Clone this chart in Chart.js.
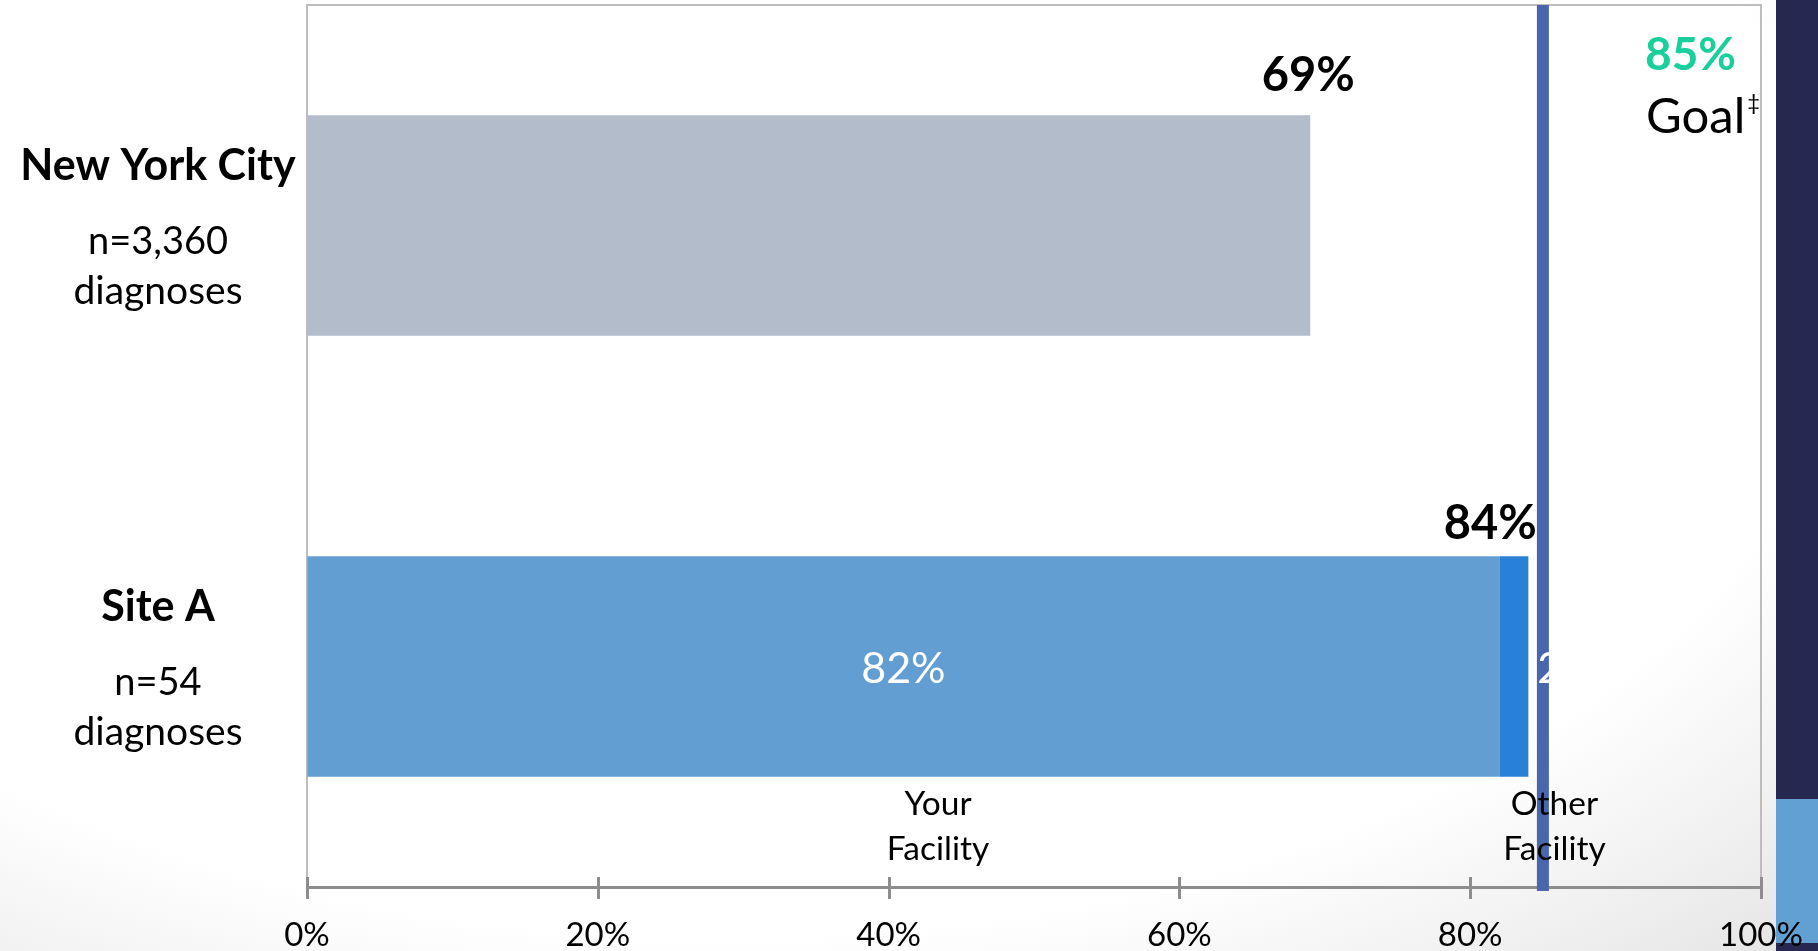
<!DOCTYPE html>
<html>
<head>
<meta charset="utf-8">
<script src="https://cdn.jsdelivr.net/npm/chart.js@4/dist/chart.umd.min.js"></script>
<style>
  html, body { margin: 0; padding: 0; }
  body {
    width: 1818px; height: 951px; overflow: hidden; position: relative;
    background: radial-gradient(ellipse 85% 95% at 40% 30%, #ffffff 72%, #efefef 90%, #dcdcdc 110%);
  }
  #stripe {
    position: absolute; left: 1776px; top: 0; width: 42px; height: 951px;
    background: linear-gradient(to bottom, #272852 0, #272852 799px, #629fd3 799px, #629fd3 943px, #272852 943px);
  }
  #wrap { position: absolute; left: 0; top: 0; width: 1818px; height: 951px; }
</style>
</head>
<body>
<div id="stripe"></div>
<div id="wrap"><canvas id="chart" width="1818" height="951"></canvas></div>
<script>
// Categories and their sample sizes
const categories = ['New York City', 'Site A'];
const sampleSizes = ['n=3,360', 'n=54'];
const sampleUnit = 'diagnoses';

// Percent of diagnoses, by series
const cityValues = [69, null];
const yourFacilityValues = [null, 82];
const otherFacilityValues = [null, 2];
const totalValues = [69, 84];

// Target and axis ticks
const goalValue = 85;
const xTickValues = [0, 20, 40, 60, 80, 100];

const FONT = 'Lato, "Open Sans", sans-serif';

function pct(v) { return v + '%'; }

// Thin frame on the top and right of the plot area
const framePlugin = {
  id: 'frame',
  beforeDatasetsDraw(chart) {
    const { ctx, chartArea: a } = chart;
    ctx.save();
    ctx.strokeStyle = '#bdbdbd';
    ctx.lineWidth = 2;
    ctx.beginPath();
    ctx.moveTo(a.left, a.top);
    ctx.lineTo(a.right, a.top);
    ctx.lineTo(a.right, a.bottom);
    ctx.stroke();
    ctx.restore();
  }
};

// Goal line, tick marks crossing the x axis, and all text annotations
const annotatePlugin = {
  id: 'annotate',
  afterDatasetsDraw(chart) {
    const { ctx, chartArea: a } = chart;
    const xs = chart.scales.x;
    const ys = chart.scales.y;

    ctx.save();
    // tick marks
    ctx.strokeStyle = '#8d8d8d';
    ctx.lineWidth = 3;
    xTickValues.forEach(v => {
      const x = Math.round(xs.getPixelForValue(v)) + 0.5;
      ctx.beginPath();
      ctx.moveTo(x, a.bottom - 10);
      ctx.lineTo(x, a.bottom + 12);
      ctx.stroke();
    });

    // goal line
    const gx = xs.getPixelForValue(goalValue);
    ctx.fillStyle = '#4a66ad';
    ctx.fillRect(gx - 6, a.top, 12, a.bottom - a.top + 4);

    // segment labels inside / beside the Site A bar
    const yourBar = chart.getDatasetMeta(1).data[1];
    const otherBar = chart.getDatasetMeta(2).data[1];
    ctx.fillStyle = '#ffffff';
    ctx.font = '43px ' + FONT;
    ctx.textAlign = 'center';
    ctx.textBaseline = 'alphabetic';
    ctx.fillText(pct(yourFacilityValues[1]), (yourBar.x + yourBar.base) / 2, yourBar.y + 16);
    ctx.textAlign = 'left';
    ctx.fillText(pct(otherFacilityValues[1]), otherBar.x + 9, otherBar.y + 16);

    // totals above each bar
    const totalShift = [-2, -38];
    const totalLift = [24, 17];
    ctx.fillStyle = '#000000';
    ctx.font = 'bold 47px ' + FONT;
    ctx.textAlign = 'center';
    totalValues.forEach((v, i) => {
      const bar = chart.getDatasetMeta(i === 0 ? 0 : 2).data[i];
      const barTop = bar.y - bar.height / 2;
      ctx.fillText(pct(v), xs.getPixelForValue(v) + totalShift[i], barTop - totalLift[i]);
    });

    // category names and sample sizes left of the plot
    categories.forEach((c, i) => {
      const cy = ys.getPixelForValue(i);
      const cx = 158;
      ctx.textAlign = 'center';
      ctx.fillStyle = '#000000';
      ctx.font = 'bold 43px ' + FONT;
      ctx.fillText(c, cx, cy - 46);
      ctx.font = '38px ' + FONT;
      ctx.fillText(sampleSizes[i], cx, cy + 28);
      ctx.font = '39px ' + FONT;
      ctx.fillText(sampleUnit, cx, cy + 78);
    });

    // series names under the Site A bar
    const seriesNames = [
      { lines: ['Your', 'Facility'], at: 43.4 },
      { lines: ['Other', 'Facility'], at: 85.8 }
    ];
    ctx.font = '33.5px ' + FONT;
    ctx.fillStyle = '#000000';
    ctx.textAlign = 'center';
    seriesNames.forEach(s => {
      const x = xs.getPixelForValue(s.at);
      ctx.fillText(s.lines[0], x, 815);
      ctx.fillText(s.lines[1], x, 860);
    });

    // goal caption
    ctx.textAlign = 'left';
    ctx.font = 'bold 46px ' + FONT;
    ctx.fillStyle = '#19cf9b';
    ctx.fillText(pct(goalValue), 1645, 70);
    ctx.font = '49px ' + FONT;
    ctx.fillStyle = '#000000';
    ctx.fillText('Goal', 1646, 133);
    const gw = ctx.measureText('Goal').width;
    ctx.font = '22px ' + FONT;
    ctx.fillText('\u2021', 1646 + gw + 2, 110);
    ctx.restore();
  }
};

function build() {
  const ctx = document.getElementById('chart').getContext('2d');
  new Chart(ctx, {
    type: 'bar',
    data: {
      labels: categories,
      datasets: [
        { label: 'New York City', data: cityValues, backgroundColor: '#b3bccb' },
        { label: 'Your Facility', data: yourFacilityValues, backgroundColor: '#629ed2' },
        { label: 'Other Facility', data: otherFacilityValues, backgroundColor: '#2a7fd6' }
      ]
    },
    options: {
      indexAxis: 'y',
      responsive: false,
      animation: false,
      events: [],
      layout: { padding: { top: 5, right: 57, left: 0, bottom: 0 } },
      datasets: { bar: { categoryPercentage: 1.0, barPercentage: 0.5, borderWidth: 0, skipNull: true } },
      plugins: { legend: { display: false }, tooltip: { enabled: false } },
      scales: {
        x: {
          stacked: true,
          min: 0, max: 100,
          afterBuildTicks(scale) { scale.ticks = xTickValues.map(v => ({ value: v })); },
          afterFit(scale) {
            scale.height = 64;
            scale.paddingLeft = 0;
            scale.paddingRight = 0;
          },
          ticks: {
            callback: v => pct(v),
            color: '#000000',
            font: { family: FONT, size: 33 },
            padding: 29,
            maxRotation: 0
          },
          grid: { drawOnChartArea: false, drawTicks: false },
          border: { color: '#8d8d8d', width: 3 }
        },
        y: {
          stacked: true,
          afterFit(scale) {
            scale.width = 307;
            scale.paddingTop = 0;
            scale.paddingBottom = 0;
          },
          ticks: { display: false },
          grid: { drawOnChartArea: false, drawTicks: false },
          border: { color: '#bdbdbd', width: 2 }
        }
      }
    },
    plugins: [framePlugin, annotatePlugin]
  });
}

Promise.all([
  document.fonts.load('31px Lato'),
  document.fonts.load('bold 46px Lato')
]).then(build, build);
</script>
</body>
</html>
